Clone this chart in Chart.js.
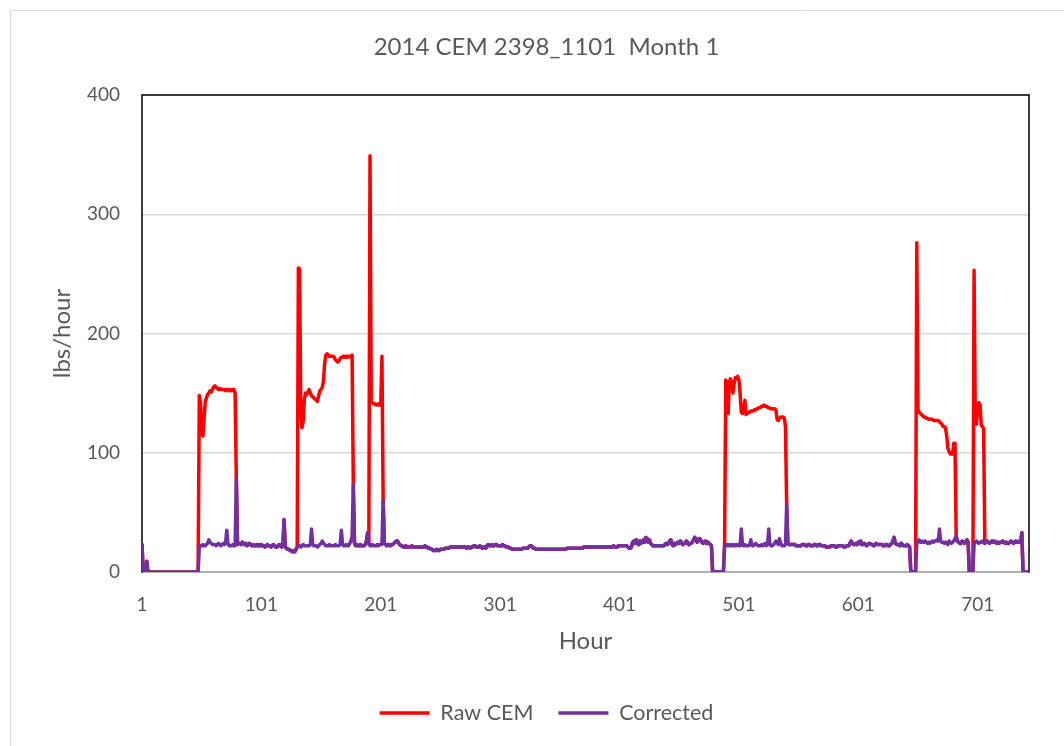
<!DOCTYPE html>
<html lang="en">

<head>
  <meta charset="UTF-8" />
  <title>2014 CEM 2398_1101 Month 1</title>
  <script src="https://cdn.jsdelivr.net/npm/chart.js"></script>
  <style>
    body {
      margin: 0;
      background-color: #ffffff;
    }

    #cemChart {
      display: block;
    }
  </style>
</head>

<body>
  <canvas id="cemChart" width="1064" height="746"></canvas>

  <script>
    // hourly values, 744 hours of January (one row = 20 hours)
    const rawCem = [
      23, 0, 0, 0, 9, 0, 0, 0, 0, 0, 0, 0, 0, 0, 0, 0, 0, 0, 0, 0,
      0, 0, 0, 0, 0, 0, 0, 0, 0, 0, 0, 0, 0, 0, 0, 0, 0, 0, 0, 0,
      0, 0, 0, 0, 0, 0, 0, 0, 148, 142, 118, 114, 128, 143, 146, 149, 150, 152, 151, 153,
      155, 156, 155, 154, 153, 154, 153, 153, 153, 153, 152, 153, 153, 152, 153, 152, 153, 153, 150, 78,
      23, 24, 24, 23, 25, 24, 23, 24, 22, 23, 24, 23, 22, 23, 22, 22, 23, 22, 23, 22,
      23, 22, 22, 21, 22, 23, 22, 22, 21, 22, 23, 22, 21, 21, 22, 23, 22, 21, 22, 44,
      21, 20, 19, 19, 18, 18, 17, 18, 17, 19, 21, 255, 254, 135, 121, 126, 145, 150, 149, 151,
      153, 150, 148, 147, 146, 145, 144, 143, 148, 152, 153, 155, 160, 175, 182, 183, 182, 181, 181, 181,
      181, 180, 178, 177, 176, 177, 179, 180, 180, 181, 180, 181, 180, 181, 181, 180, 182, 73, 24, 22,
      23, 22, 22, 23, 22, 22, 22, 23, 26, 33, 24, 349, 143, 142, 141, 141, 140, 140, 141, 140,
      141, 181, 60, 24, 23, 22, 23, 23, 22, 23, 23, 24, 25, 26, 26, 24, 23, 22, 22, 21,
      21, 22, 21, 21, 21, 21, 22, 21, 21, 21, 21, 21, 21, 21, 21, 21, 21, 22, 21, 21,
      20, 20, 19, 19, 18, 18, 18, 19, 18, 18, 19, 19, 19, 19, 20, 20, 20, 20, 21, 21,
      21, 21, 21, 21, 21, 21, 21, 21, 21, 21, 21, 21, 20, 21, 21, 20, 21, 21, 22, 22,
      21, 21, 21, 22, 21, 20, 21, 21, 20, 22, 23, 22, 22, 23, 22, 22, 23, 23, 22, 22,
      22, 22, 23, 22, 22, 21, 21, 21, 20, 20, 19, 19, 19, 19, 19, 19, 19, 19, 19, 20,
      20, 20, 20, 20, 21, 22, 22, 21, 20, 20, 19, 19, 19, 19, 19, 19, 19, 19, 19, 19,
      19, 19, 19, 19, 19, 19, 19, 19, 19, 19, 19, 19, 19, 19, 19, 19, 20, 20, 20, 20,
      20, 20, 20, 20, 20, 20, 20, 20, 20, 20, 21, 21, 21, 21, 21, 21, 21, 21, 21, 21,
      21, 21, 21, 21, 21, 21, 21, 21, 21, 21, 21, 21, 21, 21, 21, 22, 21, 21, 21, 22,
      22, 22, 22, 22, 22, 22, 22, 21, 20, 20, 21, 25, 26, 24, 27, 25, 23, 26, 24, 25,
      27, 25, 29, 28, 25, 27, 24, 23, 22, 22, 22, 22, 22, 22, 22, 22, 22, 22, 23, 24,
      23, 24, 26, 27, 23, 22, 24, 23, 24, 25, 24, 26, 25, 23, 24, 24, 26, 25, 23, 24,
      24, 25, 27, 29, 28, 25, 26, 28, 27, 25, 24, 25, 26, 24, 25, 24, 23, 22, 0, 0,
      0, 0, 0, 0, 0, 0, 0, 0, 22, 161, 150, 133, 160, 162, 157, 150, 158, 163, 162, 164,
      161, 150, 134, 133, 135, 144, 132, 133, 134, 134, 135, 135, 135, 136, 136, 137, 137, 138, 138, 139,
      139, 140, 139, 139, 138, 138, 137, 137, 137, 137, 137, 136, 128, 127, 129, 130, 130, 130, 129, 122,
      56, 24, 23, 23, 23, 23, 23, 23, 22, 22, 22, 22, 22, 23, 23, 23, 22, 22, 23, 23,
      22, 22, 22, 23, 23, 22, 22, 23, 23, 22, 22, 22, 22, 21, 21, 21, 21, 22, 22, 22,
      22, 21, 21, 22, 22, 22, 22, 22, 21, 21, 22, 22, 22, 24, 26, 24, 23, 23, 24, 23,
      25, 24, 26, 23, 23, 24, 23, 22, 23, 24, 24, 23, 23, 22, 23, 24, 23, 23, 23, 23,
      23, 22, 22, 23, 23, 22, 22, 23, 24, 26, 29, 24, 23, 23, 23, 22, 24, 23, 22, 22,
      22, 23, 22, 21, 0, 0, 0, 0, 0, 276, 136, 134, 133, 132, 131, 130, 130, 129, 129, 128,
      128, 128, 128, 127, 127, 127, 127, 127, 126, 125, 124, 122, 122, 121, 115, 104, 101, 99, 99, 99,
      108, 108, 30, 26, 25, 24, 24, 26, 25, 24, 25, 27, 25, 0, 0, 0, 0, 253, 125, 124,
      138, 142, 140, 123, 122, 120, 24, 25, 26, 25, 24, 25, 26, 25, 26, 25, 24, 25, 24, 25,
      25, 26, 25, 24, 25, 24, 24, 25, 26, 25, 24, 25, 26, 25, 25, 26, 25, 33, 0, 0,
      0, 0, 0, 0
    ];

    const corrected = [
      23, 0, 0, 0, 9, 0, 0, 0, 0, 0, 0, 0, 0, 0, 0, 0, 0, 0, 0, 0,
      0, 0, 0, 0, 0, 0, 0, 0, 0, 0, 0, 0, 0, 0, 0, 0, 0, 0, 0, 0,
      0, 0, 0, 0, 0, 0, 0, 0, 21, 22, 22, 23, 22, 22, 23, 24, 27, 25, 24, 23,
      23, 23, 22, 23, 24, 23, 22, 23, 24, 23, 24, 35, 24, 22, 22, 22, 23, 22, 22, 78,
      23, 24, 24, 23, 25, 24, 23, 24, 22, 23, 24, 23, 22, 23, 22, 22, 23, 22, 23, 22,
      23, 22, 22, 21, 22, 23, 22, 22, 21, 22, 23, 22, 21, 21, 22, 23, 22, 21, 22, 44,
      21, 20, 19, 19, 18, 18, 17, 18, 17, 19, 21, 22, 22, 21, 22, 23, 22, 22, 22, 22,
      22, 23, 36, 23, 22, 22, 22, 21, 22, 23, 24, 26, 24, 23, 22, 22, 22, 23, 22, 22,
      22, 22, 23, 22, 22, 22, 23, 35, 23, 22, 22, 23, 22, 22, 24, 26, 30, 73, 24, 22,
      23, 22, 22, 23, 22, 22, 22, 23, 26, 33, 24, 22, 22, 23, 22, 22, 22, 23, 22, 23,
      23, 23, 60, 24, 23, 22, 23, 23, 22, 23, 23, 24, 25, 26, 26, 24, 23, 22, 22, 21,
      21, 22, 21, 21, 21, 21, 22, 21, 21, 21, 21, 21, 21, 21, 21, 21, 21, 22, 21, 21,
      20, 20, 19, 19, 18, 18, 18, 19, 18, 18, 19, 19, 19, 19, 20, 20, 20, 20, 21, 21,
      21, 21, 21, 21, 21, 21, 21, 21, 21, 21, 21, 21, 20, 21, 21, 20, 21, 21, 22, 22,
      21, 21, 21, 22, 21, 20, 21, 21, 20, 22, 23, 22, 22, 23, 22, 22, 23, 23, 22, 22,
      22, 22, 23, 22, 22, 21, 21, 21, 20, 20, 19, 19, 19, 19, 19, 19, 19, 19, 19, 20,
      20, 20, 20, 20, 21, 22, 22, 21, 20, 20, 19, 19, 19, 19, 19, 19, 19, 19, 19, 19,
      19, 19, 19, 19, 19, 19, 19, 19, 19, 19, 19, 19, 19, 19, 19, 19, 20, 20, 20, 20,
      20, 20, 20, 20, 20, 20, 20, 20, 20, 20, 21, 21, 21, 21, 21, 21, 21, 21, 21, 21,
      21, 21, 21, 21, 21, 21, 21, 21, 21, 21, 21, 21, 21, 21, 21, 22, 21, 21, 21, 22,
      22, 22, 22, 22, 22, 22, 22, 21, 20, 20, 21, 25, 26, 24, 27, 25, 23, 26, 24, 25,
      27, 25, 29, 28, 25, 27, 24, 23, 22, 22, 22, 22, 22, 22, 22, 22, 22, 22, 23, 24,
      23, 24, 26, 27, 23, 22, 24, 23, 24, 25, 24, 26, 25, 23, 24, 24, 26, 25, 23, 24,
      24, 25, 27, 29, 28, 25, 26, 28, 27, 25, 24, 25, 26, 24, 25, 24, 23, 22, 0, 0,
      0, 0, 0, 0, 0, 0, 0, 0, 22, 22, 23, 22, 23, 22, 23, 22, 23, 22, 23, 22,
      23, 22, 36, 23, 22, 23, 22, 22, 22, 23, 27, 22, 22, 23, 24, 23, 22, 22, 22, 23,
      22, 23, 24, 22, 23, 36, 23, 22, 22, 23, 24, 26, 24, 23, 28, 24, 22, 22, 22, 23,
      56, 24, 23, 23, 23, 23, 23, 23, 22, 22, 22, 22, 22, 23, 23, 23, 22, 22, 23, 23,
      22, 22, 22, 23, 23, 22, 22, 23, 23, 22, 22, 22, 22, 21, 21, 21, 21, 22, 22, 22,
      22, 21, 21, 22, 22, 22, 22, 22, 21, 21, 22, 22, 22, 24, 26, 24, 23, 23, 24, 23,
      25, 24, 26, 23, 23, 24, 23, 22, 23, 24, 24, 23, 23, 22, 23, 24, 23, 23, 23, 23,
      23, 22, 22, 23, 23, 22, 22, 23, 24, 26, 29, 24, 23, 23, 23, 22, 24, 23, 22, 22,
      22, 23, 22, 21, 0, 0, 0, 0, 0, 24, 26, 27, 25, 25, 26, 25, 26, 25, 24, 25,
      24, 25, 26, 25, 26, 26, 27, 26, 36, 26, 25, 25, 24, 25, 24, 23, 26, 25, 24, 25,
      26, 28, 30, 26, 25, 24, 24, 26, 25, 24, 25, 27, 25, 0, 0, 0, 0, 24, 25, 26,
      25, 24, 25, 25, 26, 25, 24, 25, 26, 25, 24, 25, 26, 25, 26, 25, 24, 25, 24, 25,
      25, 26, 25, 24, 25, 24, 24, 25, 26, 25, 24, 25, 26, 25, 25, 26, 25, 33, 0, 0,
      0, 0, 0, 0
    ];

    const hours = rawCem.map((v, i) => i + 1);
    const hourTicks = [1, 101, 201, 301, 401, 501, 601, 701];
    const yTicks = [0, 100, 200, 300, 400];

    const textGrey = '#595959';
    const fontName = 'Lato, "Liberation Sans", sans-serif';

    // outer chart border + black plot frame like the Excel original
    const frame = {
      id: 'frame',
      beforeDraw(chart) {
        const ctx = chart.ctx;
        ctx.save();
        ctx.fillStyle = '#ffffff';
        ctx.fillRect(0, 0, chart.width, chart.height);
        ctx.strokeStyle = '#d9d9d9';
        ctx.lineWidth = 1;
        ctx.beginPath();
        ctx.moveTo(10.5, chart.height);
        ctx.lineTo(10.5, 10.5);
        ctx.lineTo(chart.width, 10.5);
        ctx.stroke();
        ctx.restore();
      },
      beforeDatasetsDraw(chart) {
        const { left, top, right, bottom } = chart.chartArea;
        const ctx = chart.ctx;
        ctx.save();
        ctx.strokeStyle = '#000000';
        ctx.lineWidth = 1.5;
        ctx.strokeRect(left, top, right - left, bottom - top);
        ctx.strokeStyle = '#d9d9d9';
        ctx.beginPath();
        ctx.moveTo(left + 1, bottom);
        ctx.lineTo(right - 1, bottom);
        ctx.stroke();
        ctx.restore();
      }
    };

    new Chart(document.getElementById('cemChart'), {
      type: 'line',
      data: {
        labels: hours,
        datasets: [{
          label: 'Raw CEM',
          data: rawCem,
          borderColor: '#ff0000',
          backgroundColor: '#ff0000',
          borderWidth: 3.5,
          order: 1
        }, {
          label: 'Corrected',
          data: corrected,
          borderColor: '#7030a0',
          backgroundColor: '#7030a0',
          borderWidth: 3.5,
          order: 0
        }]
      },
      options: {
        responsive: false,
        animation: false,
        layout: { padding: { left: 64, right: 35, top: 0, bottom: 12.25 } },
        elements: {
          point: { radius: 0 },
          line: { tension: 0, borderJoinStyle: 'round', borderCapStyle: 'round' }
        },
        scales: {
          x: {
            type: 'linear',
            min: 1,
            max: 744,
            afterBuildTicks: (axis) => { axis.ticks = hourTicks.map(v => ({ value: v })); },
            afterFit: (axis) => { axis.height = 105.25; },
            grid: { display: false },
            border: { display: false },
            ticks: {
              autoSkip: false,
              maxRotation: 0,
              padding: 13,
              color: textGrey,
              font: { family: fontName, size: 19 }
            },
            title: {
              display: true,
              text: 'Hour',
              color: textGrey,
              font: { family: fontName, size: 24 },
              padding: { top: 0, bottom: 21.85 }
            }
          },
          y: {
            min: 0,
            max: 400,
            afterBuildTicks: (axis) => { axis.ticks = yTicks.map(v => ({ value: v })); },
            afterFit: (axis) => { axis.width = 78; },
            grid: { color: '#d9d9d9', lineWidth: 1.5, drawTicks: false },
            border: { display: false },
            ticks: {
              padding: 22,
              color: textGrey,
              font: { family: fontName, size: 19 }
            },
            title: {
              display: true,
              text: 'lbs/hour',
              color: textGrey,
              font: { family: fontName, size: 24 },
              padding: { top: -16.4, bottom: 0 }
            }
          }
        },
        plugins: {
          title: {
            display: true,
            text: '2014 CEM 2398_1101  Month 1',
            color: textGrey,
            font: { family: fontName, size: 24, weight: 'normal' },
            padding: { top: 32.6, bottom: 33.6 }
          },
          legend: {
            position: 'bottom',
            labels: {
              usePointStyle: true,
              pointStyle: 'line',
              pointStyleWidth: 50,
              padding: 25,
              color: textGrey,
              font: { family: fontName, size: 21.5 },
              sort: (a, b) => a.datasetIndex - b.datasetIndex
            }
          },
          tooltip: { enabled: false }
        }
      },
      plugins: [frame]
    });
  </script>
</body>

</html>
